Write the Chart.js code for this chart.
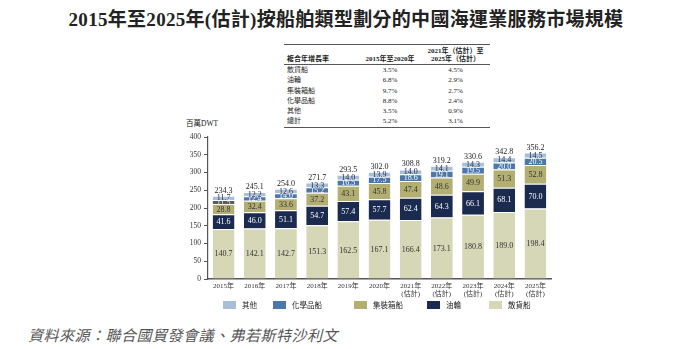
<!DOCTYPE html>
<html>
<head>
<meta charset="utf-8">
<script src="https://cdn.jsdelivr.net/npm/chart.js@4.4.0/dist/chart.umd.min.js"></script>
<style>
  body { margin: 0; background: #fff; width: 692px; height: 349px; position: relative; overflow: hidden;
         font-family: "Liberation Serif", "Noto Sans CJK TC", serif; color: #222; }
  #title { position: absolute; left: 0; width: 692px; top: 4px; text-align: center; font-size: 19px; font-weight: bold; letter-spacing: 0.3px; }
  #tbl { position: absolute; left: 284px; top: 44px; }
  #tbl table { border-collapse: collapse; font-size: 7px; line-height: 8px; }
  #tbl th { font-weight: bold; padding: 2px 0 1px 0; vertical-align: bottom; border-top: 1.5px solid #555; border-bottom: 1px solid #555; }
  #tbl td { padding: 1px 0 1.3px 0; }
  #tbl tr:last-child td { border-bottom: 1.5px solid #555; }
  #tbl .c1 { width: 72px; text-align: left; padding-left: 3px; }
  #tbl .c2 { width: 62px; text-align: center; }
  #tbl .c3 { width: 69px; text-align: center; }
  #unit { position: absolute; left: 186px; top: 117px; font-size: 7.5px; }
  #chartwrap { position: absolute; left: 150px; top: 115px; }
  #legend { position: absolute; top: 299px; left: 223px; font-size: 7.5px; }
  #legend span.item { position: absolute; white-space: nowrap; display: flex; align-items: center; }
  #legend span.box { display: inline-block; width: 13px; height: 8px; margin-right: 6px; }
  #source { position: absolute; left: 28px; top: 324px; font-size: 15px; font-style: italic; color: #555; letter-spacing: 0.5px; }
</style>
</head>
<body>

<div id="title">2015年至2025年(估計)按船舶類型劃分的中國海運業服務市場規模</div>

<div id="tbl">
<table>
  <tr><th class="c1">複合年增長率</th><th class="c2">2015年至2020年</th><th class="c3">2021年（估計）至<br>2025年（估計）</th></tr>
</table>
</div>

<div id="unit">百萬DWT</div>
<div id="chartwrap"><canvas id="myChart" width="420" height="190"></canvas></div>
<div id="legend"></div>
<div id="source">資料來源：聯合國貿發會議、弗若斯特沙利文</div>

<script>
//*************** data *******************

var years = [
  "2015年", "2016年", "2017年", "2018年", "2019年", "2020年",
  ["2021年", "(估計)"], ["2022年", "(估計)"], ["2023年", "(估計)"], ["2024年", "(估計)"], ["2025年", "(估計)"]
];

var bulk      = [140.7, 142.1, 142.7, 151.3, 162.5, 167.1, 166.4, 173.1, 180.8, 189.0, 198.4]; // 散貨船
var tanker    = [41.6, 46.0, 51.1, 54.7, 57.4, 57.7, 62.4, 64.3, 66.1, 68.1, 70.0];         // 油輪
var container = [28.8, 32.4, 33.6, 37.2, 43.1, 45.8, 47.4, 48.6, 49.9, 51.3, 52.8];         // 集裝箱船
var chemical  = [11.5, 12.4, 14.0, 15.2, 16.5, 17.5, 18.6, 19.1, 19.5, 20.0, 20.5];         // 化學品船
var others    = [11.7, 12.2, 12.6, 13.3, 14.0, 13.9, 14.0, 14.1, 14.3, 14.4, 14.5];         // 其他

var totals = [234.3, 245.1, 254.0, 271.7, 293.5, 302.0, 308.8, 319.2, 330.6, 342.8, 356.2];

// CAGR table
var cagrTypes = ["散貨船", "油輪", "集裝箱船", "化學品船", "其他", "總計"];
var cagr1520  = ["3.5%", "6.8%", "9.7%", "8.8%", "3.5%", "5.2%"];
var cagr2125  = ["4.5%", "2.9%", "2.7%", "2.4%", "0.9%", "3.1%"];

var yTicks = [0, 50, 100, 150, 200, 250, 300, 350, 400];

// series names / colours (bottom of stack first)
var seriesNames  = ["散貨船", "油輪", "集裝箱船", "化學品船", "其他"];
var seriesColors = ["#d6d7b7", "#1b2b4f", "#b3ae72", "#4b78a9", "#a9bfd6"];
var labelColors  = ["#333", "#fff", "#333", "#fff", "#1b2b4f"];

var fontFam = '"Liberation Serif", "Noto Sans CJK TC", serif';

// ---------------- table ----------------
var tbl = document.querySelector("#tbl table");
for (var i = 0; i < cagrTypes.length; i++) {
  var tr = document.createElement("tr");
  tr.innerHTML = '<td class="c1">' + cagrTypes[i] + '</td><td class="c2">' + cagr1520[i] + '</td><td class="c3">' + cagr2125[i] + '</td>';
  tbl.appendChild(tr);
}

// ---------------- legend (html) ----------------
var legendOrder = [4, 3, 2, 1, 0];
var legendLeft = [0, 50, 131, 204, 266]; // offsets from legend start
var legendDiv = document.querySelector("#legend");
for (var k = 0; k < legendOrder.length; k++) {
  var s = legendOrder[k];
  var item = document.createElement("span");
  item.className = "item";
  item.style.left = legendLeft[k] + "px";
  item.innerHTML = '<span class="box" style="background:' + seriesColors[s] + '"></span>' + seriesNames[s];
  legendDiv.appendChild(item);
}

// ---------------- chart ----------------
var seriesData = [bulk, tanker, container, chemical, others];
var datasets = [];
for (var d = 0; d < seriesData.length; d++) {
  var bg = seriesColors[d];
  if (d === 3) {
    // 2015 chemical segment drawn in dark grey in the source
    bg = chemical.map(function(v, idx) { return idx === 0 ? "#5b5b5b" : seriesColors[3]; });
  }
  datasets.push({
    label: seriesNames[d],
    data: seriesData[d],
    backgroundColor: bg,
    borderColor: "#ffffff",
    borderWidth: { top: 1 },
    borderSkipped: "bottom",
    categoryPercentage: 1.0,
    barPercentage: 0.7
  });
}

var valueLabels = {
  id: "valueLabels",
  afterDatasetsDraw: function(chart) {
    var ctx = chart.ctx;
    ctx.save();
    ctx.font = "8px " + fontFam;
    ctx.textAlign = "center";
    ctx.textBaseline = "middle";
    chart.data.datasets.forEach(function(ds, di) {
      var meta = chart.getDatasetMeta(di);
      meta.data.forEach(function(bar, i) {
        ctx.fillStyle = (di === 3 && i === 0) ? "#eee" : labelColors[di];
        ctx.fillText(ds.data[i].toFixed(1), bar.x, (bar.y + bar.base) / 2 + 0.5);
      });
    });
    var top = chart.getDatasetMeta(chart.data.datasets.length - 1);
    ctx.fillStyle = "#222";
    ctx.textBaseline = "bottom";
    top.data.forEach(function(bar, i) {
      ctx.fillText(totals[i].toFixed(1), bar.x, bar.y - 1);
    });
    ctx.restore();
  }
};

var chartCtx = document.getElementById("myChart").getContext("2d");
var shippingChart = new Chart(chartCtx, {
  type: "bar",
  data: { labels: years, datasets: datasets },
  plugins: [valueLabels],
  options: {
    responsive: false,
    animation: false,
    layout: { padding: { top: 22, right: 19, left: 0, bottom: 0 } },
    plugins: {
      legend: { display: false },
      tooltip: { enabled: false }
    },
    scales: {
      x: {
        stacked: true,
        grid: { display: false, drawTicks: false, tickLength: 0 },
        border: { display: true, color: "#555", width: 1.5 },
        ticks: { color: "#333", font: { size: 7, family: fontFam, lineHeight: 1.15 }, maxRotation: 0, autoSkip: false, padding: 3 },
        afterFit: function(scale) { scale.height = 26; }
      },
      y: {
        stacked: true,
        min: 0,
        max: 400,
        afterBuildTicks: function(scale) { scale.ticks = yTicks.map(function(v) { return { value: v }; }); },
        grid: { drawOnChartArea: false, drawTicks: true, tickLength: 4, color: "#555" },
        border: { display: true, color: "#555", width: 1.2 },
        ticks: { color: "#333", font: { size: 7.5, family: fontFam }, padding: 3 },
        afterFit: function(scale) { scale.width = 58; }
      }
    }
  }
});
</script>
</body>
</html>
